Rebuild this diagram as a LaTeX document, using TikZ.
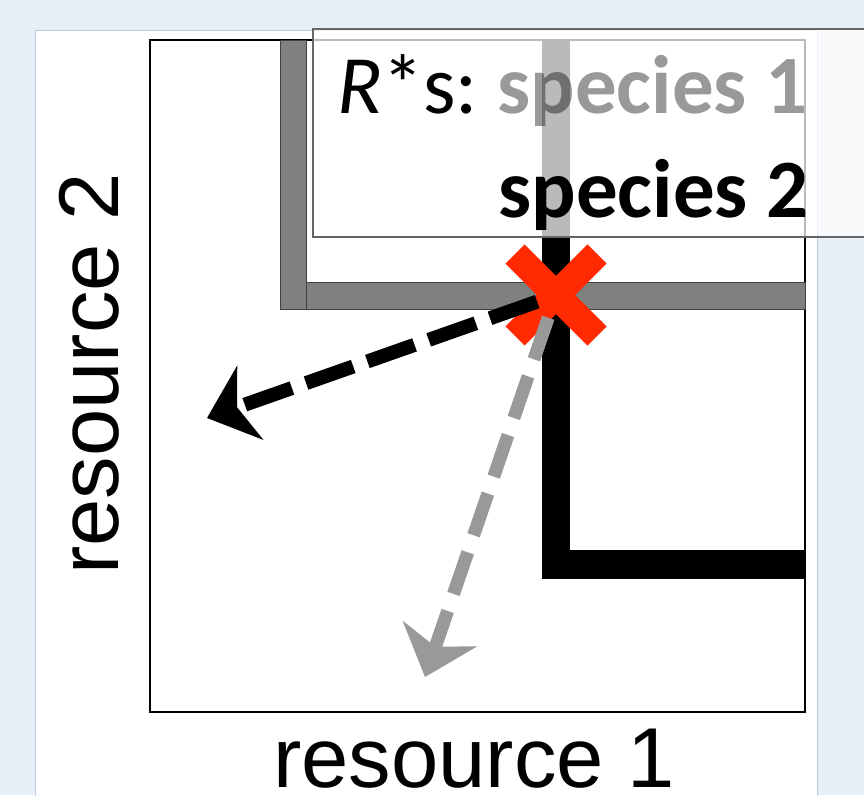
\documentclass[tikz,border=0pt]{standalone}
\usepackage{fontspec}
\usetikzlibrary{arrows.meta}
\newfontfamily\axisfont{Liberation Sans}
\newfontfamily\legfont{Carlito}
\definecolor{bgblue}{HTML}{E9EFF7}
\definecolor{panelline}{HTML}{B9CCE4}
\definecolor{xred}{HTML}{FF2A00}
\definecolor{barg}{HTML}{808080}
\definecolor{arrg}{HTML}{999999}
\begin{document}
\begin{tikzpicture}[x=1pt,y=-1pt,
  axislabel/.style={inner sep=0pt, font=\axisfont\fontsize{85}{100}\selectfont},
  legtext/.style={inner sep=0pt, font=\legfont\fontsize{83}{100}\selectfont},
  graybar/.style={fill=barg, draw=black!75, line width=1pt},
  blackbar/.style={fill=black, draw=black, line width=1pt},
  xstroke/.style={draw=xred, line width=27pt},
  dasharrow/.style={line width=14pt, dash pattern=on 50pt off 15pt,
    -{Stealth[length=46pt,width=79pt,inset=14pt,line width=0pt]}},
]
\useasboundingbox (0,0) rectangle (864,795);
\clip (0,0) rectangle (864,795);
\fill[bgblue] (0,0) rectangle (864,795);
\draw[panelline, fill=white, line width=1pt] (35,30) rectangle (817,810);
% plot frame
\draw[line width=2pt] (150,40) rectangle (805,712);
% species 1 R* (gray)
\draw[graybar] (280,40) rectangle (306,309);
\draw[graybar] (306,282) rectangle (805,309);
% species 2 R* (black)
\draw[blackbar] (542,40) rectangle (569,578);
\draw[blackbar] (569,550) rectangle (805,578);
% legend box
\draw[fill=white, fill opacity=0.73, draw=black!60, line width=1.2pt] (313,29) rectangle (880,237);
\node[legtext, anchor=base east, text opacity=0.4] (sp1) at (808,113) {\bfseries species 1};
\node[legtext, anchor=base east] (rs) at ([xshift=-19pt]sp1.base west) {\itshape R\/\upshape*s:};
\node[legtext, anchor=base east] (sp2) at (809,217) {\bfseries species 2};
% axis labels
\node[axislabel, anchor=base] (r1) at (474,787) {resource 1};
\node[axislabel, anchor=base, rotate=90] (r2) at (118,374) {resource 2};
% equilibrium mark
\coordinate (X) at (556,295);
\draw[xstroke] ([shift={(-41,-41)}]X) -- ([shift={(41,41)}]X);
\draw[xstroke] ([shift={(41,-41)}]X) -- ([shift={(-41,41)}]X);
\coordinate (tipB) at (207,418);
\coordinate (tipG) at (425,677);
\draw[dasharrow, black, shorten <=20pt] (X) -- (tipB);
\draw[dasharrow, arrg, line width=13pt, dash pattern=on 44pt off 18pt, shorten <=24pt] (X) -- (tipG);
\end{tikzpicture}
\end{document}
